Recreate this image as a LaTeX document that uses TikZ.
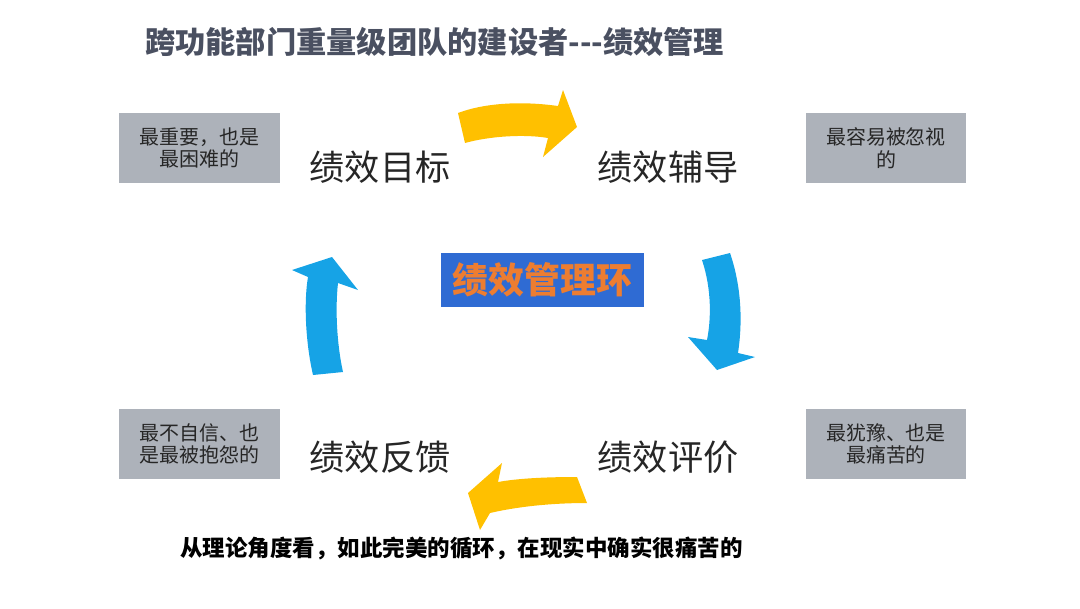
\documentclass[tikz,border=0pt]{standalone}
\usepackage{fontspec}
\setmainfont{Noto Sans CJK SC}

\definecolor{titlegray}{HTML}{4A5061}
\definecolor{notegray}{HTML}{ADB2BA}
\definecolor{ringblue}{HTML}{2F6BD3}
\definecolor{ringorange}{HTML}{ED7D31}
\definecolor{arrowgold}{HTML}{FFC000}
\definecolor{arrowblue}{HTML}{16A3E6}

\tikzset{
  notebox/.style={fill=notegray, inner sep=0pt, minimum width=4cm, minimum height=1.75cm,
    align=center, text=black!85, font=\fontsize{14.2}{16}\selectfont},
  stage/.style={inner sep=0pt, text=black!85, font=\fontsize{25}{30}\selectfont},
}

\begin{document}
\begin{tikzpicture}[x=0.025cm, y=-0.025cm]

% Fix the page to the slide size
\useasboundingbox (0,0) rectangle (1080,608);

% Title
\node[anchor=west, inner sep=0pt, text=titlegray, font=\fontsize{21.5}{25}\bfseries] (title) at (145,42) {跨功能部门重量级团队的建设者\mbox{-}\mbox{-}\mbox{-}绩效管理};

% The four stages of the loop
\node[stage] (goal) at (380,167) {绩效目标};
\node[stage] (coach) at (668,167) {绩效辅导};
\node[stage] (feedback) at (380,457) {绩效反馈};
\node[stage] (review) at (668,457) {绩效评价};

% Grey notes beside each stage
\node[notebox] (noteGoal) at (199.5,148) {最重要，也是\\最困难的};
\node[notebox] (noteCoach) at (886,148) {最容易被忽视\\的};
\node[notebox] (noteFeedback) at (199.5,444) {最不自信、也\\是最被抱怨的};
\node[notebox] (noteReview) at (886,444) {最犹豫、也是\\最痛苦的};

% Centre label
\node[fill=ringblue, minimum width=5.075cm, minimum height=1.35cm, inner sep=0pt,
  text=ringorange, font=\fontsize{25.5}{30}\bfseries] (ring) at (542.5,280) {绩效管理环};

% Yellow arrow, top (goal to coaching)
\fill[arrowgold] (458,113) .. controls (490,101) and (530,102) .. (558,106) -- (563,90) -- (577,127)
  -- (543,157) -- (548,138) .. controls (525,134) and (490,136) .. (465,143) -- cycle;

% Blue arrow, right (coaching to review)
\fill[arrowblue] (702,260) .. controls (712,290) and (711,320) .. (707,340) -- (688,337) -- (717,370)
  -- (755,357) -- (738,353) .. controls (743,320) and (741,285) .. (730,253) -- cycle;

% Yellow arrow, bottom (review to feedback)
\fill[arrowgold] (577,477) .. controls (550,477) and (520,478) .. (498,482) -- (502,463) -- (468,493)
  -- (480,530) -- (490,513) .. controls (520,506) and (555,503) .. (587,503) -- cycle;

% Blue arrow, left (feedback to goal)
\fill[arrowblue] (313,375) .. controls (305,340) and (304,300) .. (308,277) -- (292,270) -- (332,257)
  -- (358,290) -- (338,283) .. controls (335,310) and (337,345) .. (343,372) -- cycle;

% Remark at the bottom
\node[anchor=west, inner sep=0pt, text=black, font=\fontsize{16}{19}\bfseries] (remark) at (180,548) {从理论角度看，如此完美的循环，在现实中确实很痛苦的};

\end{tikzpicture}
\end{document}
